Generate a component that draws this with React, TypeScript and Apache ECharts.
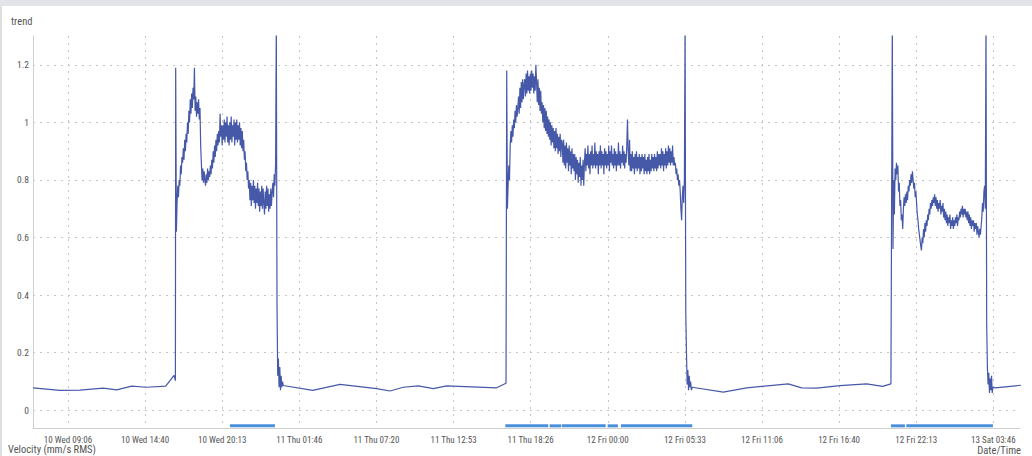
import React, { useEffect, useRef } from 'react';
import * as echarts from 'echarts';

// ---- data (times in hours since 10 Wed 00:00) ----
const sampleStepH = 0.05;

const idleHours = [
  6.59, 8.53, 9.97, 11.65, 12.62, 13.7, 14.78, 16.15, 16.75, 16.85,
  24.62, 26.74, 28.71, 31.35, 32.31, 33.27, 34.35, 35.43, 36.39, 39.99, 40.67,
  54.08, 56.32, 58.01, 59.69, 61.0, 61.97, 63.05, 64.73, 66.65, 67.81, 68.4,
  75.9, 77.77,
];
const idleValues = [
  0.078, 0.069, 0.07, 0.077, 0.071, 0.084, 0.08, 0.084, 0.121, 0.103,
  0.086, 0.069, 0.09, 0.075, 0.067, 0.08, 0.085, 0.075, 0.085, 0.078, 0.094,
  0.08, 0.063, 0.078, 0.086, 0.092, 0.078, 0.077, 0.086, 0.092, 0.083, 0.092,
  0.078, 0.087,
];

const run1StartH = 16.87;
const run1Values = [
  1.19, 0.62,
  0.72, 0.78, 0.74, 0.8,
  0.78, 0.85, 0.82, 0.88,
  0.86, 0.91, 0.87, 0.94, 0.9, 0.96,
  0.93, 1.0, 0.96, 1.04,
  1.0, 1.08, 1.03, 1.1, 1.05, 1.12, 1.08,
  1.19,
  1.04, 1.09, 1.02, 1.07, 1.03, 1.08, 1.01,
  1.05, 0.92, 0.86,
  0.8, 0.84, 0.79, 0.83, 0.8, 0.78, 0.82, 0.79, 0.84, 0.8, 0.83, 0.81, 0.85, 0.82,
  0.87, 0.84, 0.9, 0.86, 0.92, 0.88, 0.94, 0.9, 0.96, 0.92,
  0.97, 0.93,
  1.03,
  0.95, 0.99, 0.92, 0.99, 0.94, 1.01, 0.93, 1.0, 0.95, 1.02,
  0.93, 0.99, 0.92, 1.0, 0.94, 1.02, 0.93, 0.99, 0.95, 1.01,
  0.92, 1.0, 0.94, 1.01, 0.93, 0.99, 0.94, 1.0, 0.92, 0.98,
  0.91, 0.97,
  0.9, 0.94, 0.87, 0.9, 0.83, 0.86, 0.8, 0.83, 0.77, 0.8,
  0.73, 0.79, 0.71, 0.78, 0.73, 0.8, 0.72, 0.78, 0.7, 0.77,
  0.72, 0.79, 0.71, 0.77, 0.69, 0.76, 0.71, 0.78, 0.7, 0.77,
  0.72, 0.68, 0.76, 0.7, 0.78, 0.71, 0.77, 0.69, 0.75, 0.7,
  0.77, 0.71, 0.76,
  0.79, 0.74, 0.82, 0.78, 0.86,
  1.35,
  0.37,
  0.12, 0.18, 0.08, 0.15, 0.07, 0.12, 0.08, 0.1,
];

const run2StartH = 40.72;
const run2Values = [
  1.18, 0.7,
  0.78, 0.85, 0.8,
  0.92, 0.97, 0.93, 0.99, 0.95,
  1.01, 0.98, 1.04, 1.0, 1.06, 1.02, 1.05,
  1.09, 1.03, 1.12, 1.05, 1.14, 1.07, 1.15, 1.08, 1.13,
  1.15, 1.09, 1.17, 1.1, 1.18, 1.11, 1.16, 1.1, 1.17,
  1.11, 1.18, 1.12, 1.17, 1.1, 1.16, 1.11,
  1.2,
  1.14, 1.07, 1.15, 1.06, 1.12, 1.04, 1.11, 1.03,
  1.07, 1.0, 1.06, 0.98, 1.05, 0.97, 1.04, 0.96, 1.02, 0.95,
  1.01, 0.94, 1.0, 0.92, 0.99, 0.93, 0.98, 0.91, 0.97, 0.9, 0.98, 0.91, 0.96, 0.89, 0.95, 0.9, 0.96, 0.88, 0.94,
  0.93, 0.86, 0.94, 0.85, 0.92, 0.84, 0.93, 0.86, 0.91, 0.83, 0.92, 0.85, 0.9, 0.82, 0.91, 0.84, 0.89,
  0.83, 0.89, 0.8, 0.88, 0.82, 0.87, 0.79, 0.86, 0.81, 0.88, 0.78, 0.85, 0.8, 0.87, 0.78,
  0.86, 0.91, 0.83, 0.89, 0.85, 0.92, 0.84, 0.89, 0.82, 0.9, 0.85, 0.92, 0.84, 0.89, 0.85, 0.93, 0.84, 0.9, 0.85, 0.89, 0.82, 0.9, 0.85, 0.92,
  0.84, 0.9, 0.85, 0.89, 0.82, 0.91, 0.85, 0.9, 0.84, 0.89, 0.85, 0.92, 0.83, 0.9, 0.86, 0.92, 0.85,
  0.89, 0.84, 0.91, 0.85, 0.9, 0.83, 0.89, 0.85, 0.93, 0.85, 0.9, 0.84, 0.89, 0.86, 0.92, 0.85, 0.9, 0.84, 0.89, 0.86, 0.92,
  1.01,
  0.9, 0.85, 0.94, 0.83,
  0.89, 0.83, 0.9, 0.84, 0.88, 0.82, 0.89, 0.84, 0.9, 0.83, 0.88, 0.84, 0.89, 0.82, 0.88, 0.83, 0.89, 0.84, 0.88, 0.82, 0.89, 0.83, 0.87, 0.82,
  0.88, 0.83, 0.89, 0.82, 0.87, 0.83, 0.89, 0.84, 0.88, 0.83, 0.89, 0.84, 0.88, 0.83, 0.9, 0.84, 0.89, 0.85,
  0.89, 0.84, 0.91, 0.85, 0.9, 0.83, 0.89, 0.85, 0.91, 0.84, 0.9, 0.85, 0.92, 0.86, 0.91, 0.85, 0.9, 0.86, 0.92, 0.85,
  0.88, 0.85, 0.86, 0.82, 0.84, 0.8, 0.82, 0.78, 0.8,
  0.76, 0.7, 0.66, 0.74, 0.78,
  0.72, 0.8,
  1.35,
  0.34,
  0.2, 0.09, 0.14, 0.07, 0.12, 0.08, 0.1, 0.07,
];

const run3StartH = 68.5;
const run3Values = [
  1.35, 0.56,
  0.8, 0.68,
  0.84, 0.8, 0.86, 0.82, 0.85,
  0.76, 0.79, 0.71, 0.73, 0.66, 0.68, 0.63,
  0.7, 0.74, 0.71, 0.75, 0.72, 0.76, 0.73,
  0.78, 0.76, 0.8, 0.78, 0.82, 0.79, 0.83, 0.8,
  0.77, 0.79, 0.74, 0.76, 0.72,
  0.68, 0.66, 0.63, 0.61, 0.59, 0.57, 0.555,
  0.6, 0.58, 0.63, 0.6, 0.65, 0.62, 0.66, 0.64, 0.68,
  0.66, 0.7, 0.68, 0.72, 0.7, 0.73, 0.71, 0.74, 0.72, 0.75,
  0.71, 0.74, 0.7, 0.73, 0.69, 0.72, 0.7, 0.73, 0.68, 0.71, 0.69, 0.72,
  0.67, 0.7, 0.66, 0.69, 0.65, 0.68, 0.64, 0.67, 0.65, 0.68, 0.63, 0.66,
  0.64, 0.67, 0.63, 0.66, 0.64, 0.67, 0.65, 0.68, 0.64, 0.67, 0.66, 0.69,
  0.67, 0.7, 0.68, 0.71, 0.67, 0.7, 0.68, 0.7, 0.67, 0.69, 0.66, 0.69,
  0.65, 0.68, 0.64, 0.67, 0.63, 0.66, 0.64, 0.66, 0.62, 0.65, 0.63, 0.65,
  0.61, 0.64, 0.62, 0.6, 0.63, 0.61, 0.64,
  0.67, 0.72, 0.69, 0.76, 0.78,
  0.7,
  1.35,
  0.3,
  0.15, 0.09, 0.13, 0.06, 0.11, 0.07, 0.12, 0.06, 0.08,
];

// running-state bars along the bottom (hours since 10 Wed 00:00)
const runBarStartH = [20.78, 40.62, 43.81, 44.68, 47.99, 48.95, 68.4, 69.51];
const runBarEndH = [24.02, 43.71, 44.63, 47.85, 48.73, 54.09, 69.41, 75.75];
const runBarLevel = -0.054;

const xRangeH = [6.59, 77.7];
const yRange = [-0.0615, 1.3];
const yStep = 0.2;
const tickStepSec = 20000;
const dayNames = ['Wed', 'Thu', 'Fri', 'Sat'];
const firstDay = 10;
const refHour = 48; // 12 Fri 00:00

const toAxis = (h: number) => Math.round((h - refHour) * 3600);

function fmtTime(v: number): string {
  const s = Math.round(v + refHour * 3600);
  const d = Math.floor(s / 86400);
  const r = s - d * 86400;
  const hh = Math.floor(r / 3600);
  const mm = Math.floor((r % 3600) / 60);
  return `${firstDay + d} ${dayNames[d] ?? ''} ${String(hh).padStart(2, '0')}:${String(mm).padStart(2, '0')}`;
}

function buildLine(): [number, number][] {
  const pts: [number, number][] = [];
  idleHours.forEach((h, i) => pts.push([toAxis(h), idleValues[i]]));
  const runs: [number, number[]][] = [
    [run1StartH, run1Values],
    [run2StartH, run2Values],
    [run3StartH, run3Values],
  ];
  runs.forEach(([start, vals]) => {
    vals.forEach((v, i) => pts.push([toAxis(start + i * sampleStepH), v]));
  });
  pts.sort((a, b) => a[0] - b[0]);
  return pts;
}

const FONT = "'Roboto Condensed', 'Liberation Sans Narrow', 'Arial Narrow', Roboto, sans-serif";
const TEXT = '#555';

export default function App() {
  const ref = useRef<HTMLDivElement>(null);
  useEffect(() => {
    document.body.style.margin = '0';
    if (!ref.current) return;
    const chart = echarts.init(ref.current, undefined, { renderer: 'svg' });
    const lineData = buildLine();
    const barData = runBarStartH.map((s, i) => [toAxis(s), toAxis(runBarEndH[i]), runBarLevel]);
    chart.setOption({
      animation: false,
      backgroundColor: '#fff',
      textStyle: { fontFamily: FONT },
      grid: { left: 33, right: 12, top: 36, bottom: 28 },
      xAxis: {
        type: 'value',
        min: toAxis(xRangeH[0]),
        max: toAxis(xRangeH[1]),
        minInterval: tickStepSec,
        maxInterval: tickStepSec,
        axisLine: { show: true, onZero: false, lineStyle: { color: '#cfcfcf', width: 1 } },
        axisTick: { show: false },
        axisLabel: {
          show: true,
          color: TEXT,
          fontSize: 9,
          fontFamily: FONT,
          margin: 7,
          showMinLabel: false,
          showMaxLabel: false,
          formatter: (v: number) => fmtTime(v),
        },
        splitLine: {
          show: true,
          showMinLine: false,
          showMaxLine: false,
          lineStyle: { color: '#c4c4c4', type: [2, 5], width: 1 },
        },
      },
      yAxis: {
        type: 'value',
        min: yRange[0],
        max: yRange[1],
        minInterval: yStep,
        maxInterval: yStep,
        axisLine: { show: true, onZero: false, lineStyle: { color: '#cfcfcf', width: 1 } },
        axisTick: { show: false },
        axisLabel: {
          color: TEXT,
          fontSize: 9.5,
          fontFamily: FONT,
          margin: 4,
          showMinLabel: false,
          showMaxLabel: false,
        },
        splitLine: {
          show: true,
          showMinLine: false,
          showMaxLine: false,
          lineStyle: { color: '#c4c4c4', type: [2, 5], width: 1 },
        },
      },
      series: [
        {
          type: 'line',
          data: lineData,
          showSymbol: false,
          symbol: 'none',
          lineStyle: { color: '#4658a8', width: 1.2 },
          itemStyle: { color: '#4658a8' },
          clip: true,
          z: 3,
        },
        {
          type: 'custom',
          data: barData,
          encode: { x: [0, 1], y: 2 },
          clip: true,
          z: 4,
          renderItem: (params: any, api: any) => {
            const s = api.coord([api.value(0), api.value(2)]);
            const e = api.coord([api.value(1), api.value(2)]);
            return {
              type: 'rect',
              shape: { x: s[0], y: s[1] - 1.5, width: e[0] - s[0], height: 3 },
              style: { fill: '#4a8fdc' },
            };
          },
        },
      ],
      graphic: [
        { type: 'rect', left: 0, top: 0, shape: { width: 1032, height: 6 }, style: { fill: '#e2e4e7' }, silent: true },
        { type: 'rect', left: 0, top: 6, shape: { width: 2, height: 450 }, style: { fill: '#dcdee1' }, silent: true },
        { type: 'text', left: 11, top: 16, style: { text: 'trend', fill: TEXT, fontSize: 10.5, fontFamily: FONT } },
        { type: 'text', left: 8, top: 444, style: { text: 'Velocity (mm/s RMS)', fill: TEXT, fontSize: 10.5, fontFamily: FONT } },
        { type: 'text', right: 11, top: 445, style: { text: 'Date/Time', fill: TEXT, fontSize: 10.5, fontFamily: FONT } },
      ],
    });
    return () => chart.dispose();
  }, []);
  return <div ref={ref} style={{ width: 1032, height: 456 }} />;
}
